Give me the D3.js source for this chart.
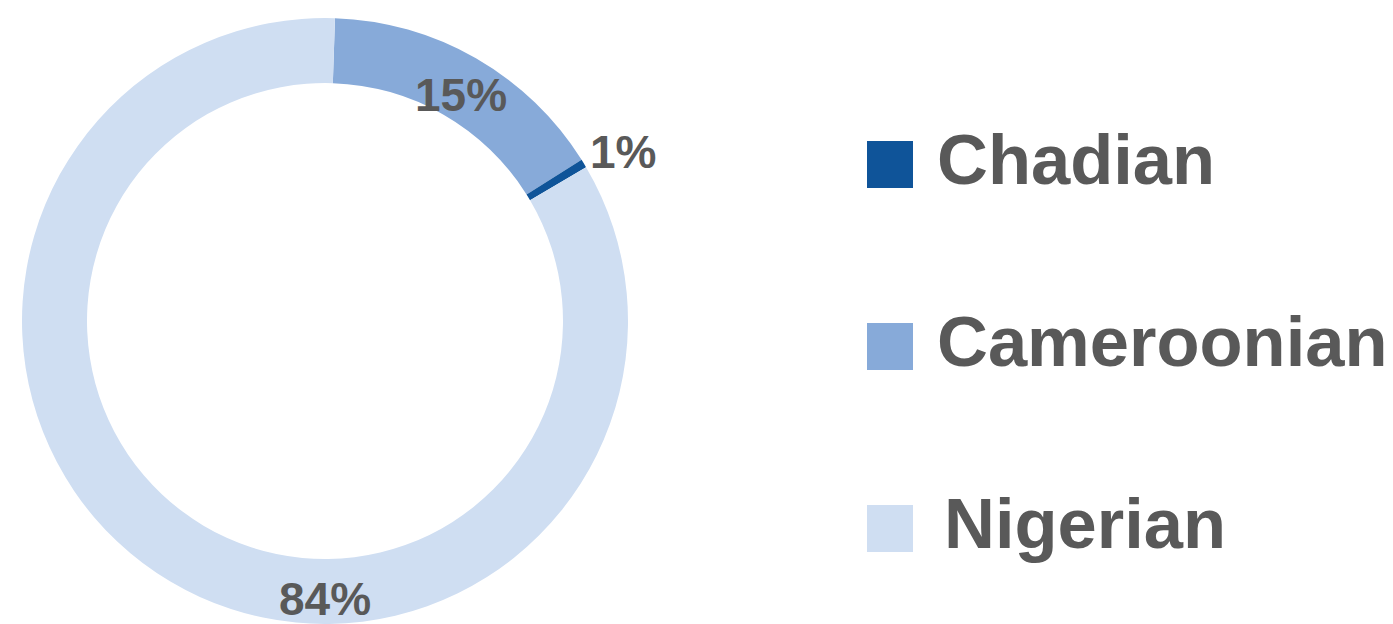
<!DOCTYPE html>
<html>
<head>
<meta charset="utf-8">
<script src="https://cdn.jsdelivr.net/npm/d3@7"></script>
<style>
  html, body { margin: 0; padding: 0; background: #fff; }
  text { font-family: "Liberation Sans", Arial, sans-serif; font-weight: bold; fill: #595959; }
</style>
</head>
<body>
<svg id="chart" width="1393" height="624"></svg>
<script>
// legend order
var categories = ["Chadian", "Cameroonian", "Nigerian"];
var values = [0.45, 15.55, 84.0];
var valueLabels = ["1%", "15%", "84%"];
var colors = ["#0F5499", "#87AAD9", "#CFDEF2"];
// clockwise draw order, starting near 12 o'clock
var drawOrder = ["Cameroonian", "Chadian", "Nigerian"];

var svg = d3.select("#chart");
var cx = 325, cy = 321, outerR = 303, innerR = 238;
var startA = 0.033;

var slices = drawOrder.map(function(name) {
    var i = categories.indexOf(name);
    return { name: name, value: values[i], label: valueLabels[i], color: colors[i] };
});

var pie = d3.pie().sort(null).value(function(d) { return d.value; })
    .startAngle(startA).endAngle(startA + 2 * Math.PI);
var arc = d3.arc().innerRadius(innerR).outerRadius(outerR);
var arcs = pie(slices);

var g = svg.append("g").attr("transform", "translate(" + cx + "," + cy + ")");

g.selectAll("path").data(arcs).enter().append("path")
    .attr("d", arc)
    .attr("fill", function(d) { return d.data.color; });

// label placement, like excel's: angle (rad, clockwise from top) and radius
var labelPos = {
    "Cameroonian": function(d) { return { a: (d.startAngle + d.endAngle) / 2 + 0.02, r: 264 }; },
    "Chadian": function(d) { return { a: 1.054, r: 343 }; },
    "Nigerian": function(d) { return { a: Math.PI, r: 278 }; }
};

g.selectAll("text.val").data(arcs).enter().append("text")
    .attr("class", "val")
    .attr("text-anchor", "middle")
    .attr("dominant-baseline", "central")
    .style("font-size", "46px")
    .attr("x", function(d) { var p = labelPos[d.data.name](d); return p.r * Math.sin(p.a); })
    .attr("y", function(d) { var p = labelPos[d.data.name](d); return -p.r * Math.cos(p.a); })
    .text(function(d) { return d.data.label; });

// legend
var legY = d3.scalePoint().domain(categories).range([164, 528]);
var leg = svg.append("g").attr("transform", "translate(867,0)");
var item = leg.selectAll("g").data(categories).enter().append("g")
    .attr("transform", function(d) { return "translate(0," + legY(d) + ")"; });
item.append("rect")
    .attr("x", 0).attr("y", -23)
    .attr("width", 46).attr("height", 47)
    .attr("fill", function(d, i) { return colors[i]; });
item.append("text")
    .attr("x", function(d) { return d === "Nigerian" ? 77 : 70; })
    .attr("y", 20)
    .style("font-size", "70.5px")
    .text(function(d) { return d; });
</script>
</body>
</html>
